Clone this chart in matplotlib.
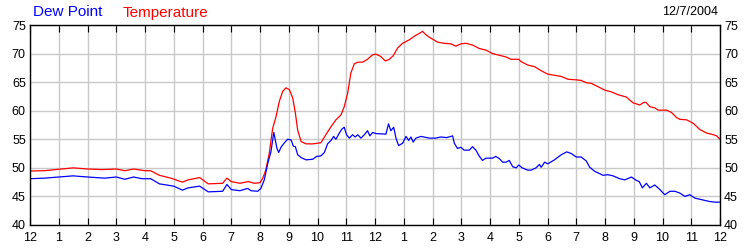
import matplotlib
matplotlib.use("Agg")
import matplotlib.pyplot as plt

# hours since midnight, readings in degrees F
temp_hours = [0, 0.5, 1, 1.5, 2, 2.5, 3, 3.3, 3.6, 4, 4.2, 4.5, 4.9, 5.3, 5.5, 5.9, 6.2,
              6.7, 6.85, 7.0, 7.3, 7.6, 7.8, 8.0, 8.1, 8.2, 8.32, 8.44, 8.56, 8.67, 8.79,
              8.9, 9.02, 9.14, 9.23, 9.31, 9.43, 9.6, 9.83, 10.12, 10.29, 10.47, 10.64,
              10.82, 10.93, 11.05, 11.16, 11.28, 11.4, 11.57, 11.74, 11.92, 12.03, 12.2,
              12.36, 12.5, 12.63, 12.79, 12.96, 13.19, 13.42, 13.6, 13.65, 13.77, 13.94,
              14.18, 14.4, 14.64, 14.81, 14.99, 15.16, 15.39, 15.62, 15.86, 16.09, 16.33,
              16.56, 16.73, 17.0, 17.08, 17.31, 17.55, 17.78, 18.01, 18.24, 18.48, 18.71,
              19.0, 19.17, 19.35, 19.52, 19.76, 19.99, 20.22, 20.45, 20.74, 20.97, 21.21,
              21.33, 21.42, 21.56, 21.73, 21.85, 22.14, 22.31, 22.49, 22.6, 22.84, 23.07,
              23.3, 23.53, 23.77, 23.88, 24.0]
temperature = [49.45, 49.5, 49.75, 50.0, 49.8, 49.7, 49.8, 49.5, 49.8, 49.5, 49.5, 48.7,
               48.2, 47.5, 47.9, 48.3, 47.2, 47.3, 48.2, 47.6, 47.3, 47.6, 47.3, 47.4, 48.2,
               49.6, 52.5, 56.9, 59.0, 61.6, 63.4, 64.0, 63.7, 62.2, 59.6, 56.6, 54.6, 54.2,
               54.2, 54.4, 55.8, 57.2, 58.4, 59.3, 60.7, 63.1, 66.6, 68.2, 68.5, 68.5, 69.0,
               69.8, 69.9, 69.5, 68.7, 69.0, 69.6, 71.0, 71.8, 72.4, 73.2, 73.7, 73.9, 73.3,
               72.7, 72.0, 71.8, 71.7, 71.3, 71.7, 71.8, 71.5, 70.9, 70.6, 70.0, 69.7, 69.4,
               69.0, 69.0, 68.6, 68.0, 67.7, 67.0, 66.4, 66.2, 66.0, 65.5, 65.4, 65.3, 64.9,
               64.8, 64.2, 63.6, 63.3, 62.8, 62.4, 61.4, 61.0, 61.4, 61.5, 60.7, 60.5, 60.1,
               60.1, 59.7, 58.8, 58.5, 58.4, 57.8, 56.7, 56.1, 55.8, 55.6, 55.0]

dew_hours = [0, 0.5, 1, 1.5, 2, 2.6, 3, 3.3, 3.6, 3.9, 4.2, 4.5, 5.0, 5.3, 5.5, 5.9, 6.2,
             6.7, 6.85, 7.0, 7.3, 7.57, 7.69, 7.92, 8.03, 8.15, 8.27, 8.38, 8.48, 8.53,
             8.59, 8.65, 8.73, 8.85, 8.96, 9.08, 9.16, 9.23, 9.31, 9.43, 9.6, 9.83, 9.97,
             10.12, 10.24, 10.35, 10.47, 10.56, 10.64, 10.76, 10.85, 10.93, 11.01, 11.11,
             11.22, 11.31, 11.4, 11.51, 11.63, 11.74, 11.82, 11.92, 12.03, 12.38, 12.47,
             12.55, 12.65, 12.73, 12.82, 12.96, 13.08, 13.17, 13.25, 13.33, 13.42, 13.6,
             13.89, 14.1, 14.29, 14.5, 14.7, 14.76, 14.87, 14.99, 15.1, 15.28, 15.39, 15.51,
             15.62, 15.74, 15.86, 16.09, 16.2, 16.33, 16.44, 16.56, 16.67, 16.79, 16.91,
             17.0, 17.12, 17.31, 17.43, 17.6, 17.72, 17.78, 17.9, 18.01, 18.24, 18.48,
             18.67, 18.83, 19.0, 19.17, 19.35, 19.47, 19.64, 19.93, 20.1, 20.28, 20.51,
             20.69, 20.92, 21.09, 21.19, 21.3, 21.44, 21.56, 21.73, 21.91, 22.08, 22.26,
             22.43, 22.6, 22.78, 22.95, 23.13, 23.3, 23.48, 23.65, 23.83, 24.0]
dew_point = [48.1, 48.2, 48.4, 48.6, 48.4, 48.2, 48.4, 48.0, 48.4, 48.1, 48.1, 47.2, 46.8,
             46.1, 46.5, 46.8, 45.8, 45.9, 47.1, 46.2, 46.0, 46.4, 46.0, 45.9, 46.4, 47.9,
             50.8, 52.8, 56.2, 54.9, 53.4, 52.7, 53.6, 54.4, 55.0, 54.9, 53.8, 53.7, 52.3,
             51.8, 51.4, 51.5, 52.0, 52.1, 52.7, 54.2, 54.8, 55.5, 55.0, 56.1, 56.8, 57.1,
             55.8, 55.2, 55.8, 55.4, 55.8, 55.2, 55.8, 56.5, 55.6, 56.2, 56.0, 55.9, 57.7,
             56.5, 57.1, 55.2, 53.9, 54.3, 55.5, 54.8, 55.4, 54.5, 55.2, 55.5, 55.2, 55.2,
             55.4, 55.3, 55.6, 54.3, 53.4, 53.6, 53.1, 53.1, 53.7, 53.1, 52.1, 51.3, 51.7,
             51.7, 52.0, 51.6, 51.0, 51.0, 51.3, 50.2, 50.0, 50.5, 50.0, 49.6, 49.6, 50.0,
             50.6, 50.1, 51.0, 50.7, 51.4, 52.3, 52.8, 52.5, 51.9, 51.9, 51.2, 50.1, 49.4,
             48.7, 48.8, 48.6, 48.1, 47.9, 48.4, 47.8, 47.6, 46.5, 47.3, 46.5, 47.0, 46.2,
             45.3, 45.9, 45.9, 45.6, 45.0, 45.3, 44.7, 44.5, 44.3, 44.1, 44.0, 44.0]

hour_labels = ["12", "1", "2", "3", "4", "5", "6", "7", "8", "9", "10", "11",
               "12", "1", "2", "3", "4", "5", "6", "7", "8", "9", "10", "11", "12"]
date_text = "12/7/2004"

plt.rcParams['font.family'] = ['Liberation Sans', 'DejaVu Sans']

fig = plt.figure(figsize=(7.5, 2.5), dpi=100)
ax = fig.add_axes([0.04, 0.1, 0.92, 0.8])

ax.plot(temp_hours, temperature, color="#ff0000", lw=0.9)
ax.plot(dew_hours, dew_point, color="#0000ff", lw=0.9)

ax.set_xlim(0, 24)
ax.set_ylim(40, 75)
ax.set_xticks(range(25))
ax.set_xticklabels(hour_labels)
ax.set_yticks(range(40, 76, 5))
ax.grid(True, color="#c8c8c8", lw=1)
ax.set_axisbelow(True)
ax.tick_params(axis="x", direction="in", length=5, top=True, labelsize=9, pad=5, color="black")
ax.tick_params(axis="y", length=0, right=True, labelright=True, labelsize=9, pad=3)
for s in ax.spines.values():
    s.set_linewidth(1)

fig.text(0.044, 0.95, "Dew Point", color="#0000ff", fontsize=11, va="center")
fig.text(0.164, 0.95, "Temperature", color="#ff0000", fontsize=11, va="center")
fig.text(0.957, 0.952, date_text, color="black", fontsize=9, va="center", ha="right")

fig.savefig("out.png", dpi=100)
